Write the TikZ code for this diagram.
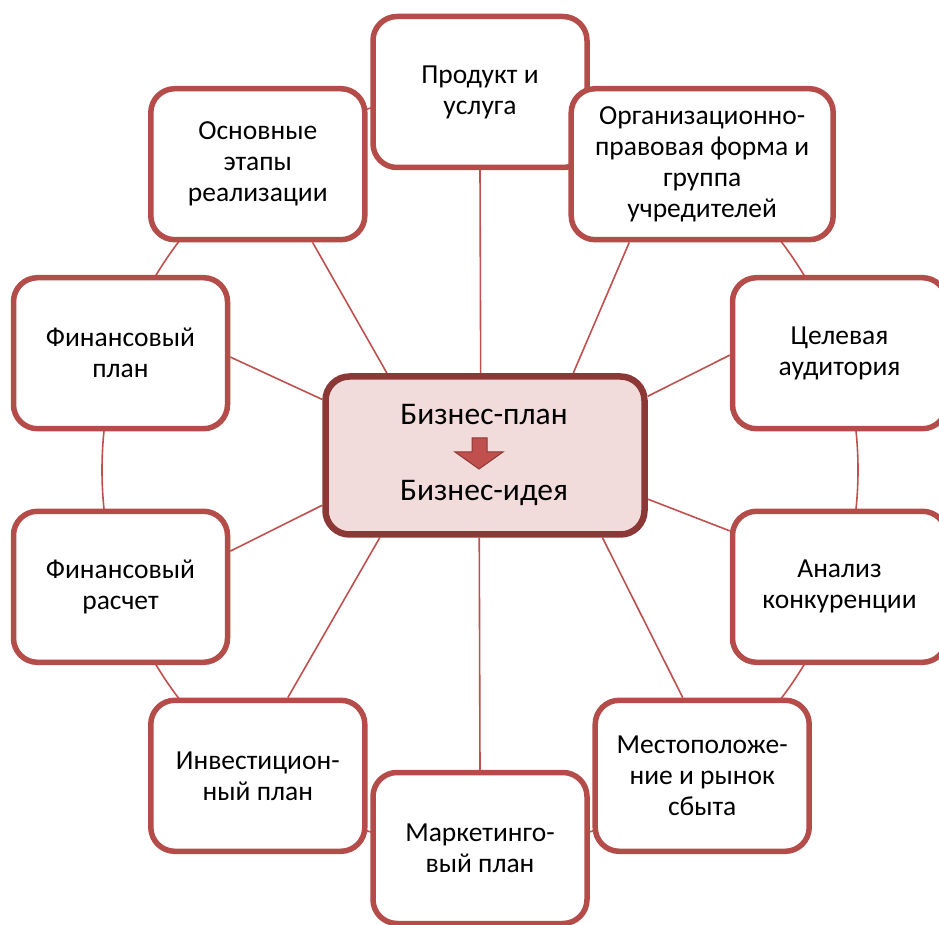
\documentclass[tikz,border=0pt]{standalone}
\usepackage{fontspec}
\setmainfont{Carlito}
\usetikzlibrary{calc,backgrounds}

\definecolor{boxred}{RGB}{180,76,73}
\definecolor{linered}{RGB}{192,80,77}
\definecolor{hubedge}{RGB}{140,56,54}
\definecolor{hubfill}{RGB}{242,220,219}

\begin{document}
\begin{tikzpicture}[
  x=1pt,
  y=1pt,
  topic/.style={draw=boxred, line width=5.5pt, fill=white, rounded corners=24pt, minimum width=214pt, minimum height=151pt, inner sep=0pt, align=center, font=\fontsize{27.5}{31}\selectfont},
  hub/.style={draw=hubedge, line width=6.5pt, fill=hubfill, rounded corners=24pt, minimum width=319pt, minimum height=158pt},
  hubtext/.style={anchor=base, inner sep=0pt, font=\fontsize{31.5}{36}\selectfont},
  spoke/.style={draw=linered, line width=1.6pt}
]
  \useasboundingbox (0,0) rectangle (939,924);
  \coordinate (ringc) at (480,454);

  \node[topic] (prod) at (480,832) {Продукт и\\услуга};
  \node[topic, minimum width=262pt] (org) at (702.2,759.8) {Организационно-\\правовая форма и\\группа\\учредителей};
  \node[topic] (target) at (839.5,570.8) {Целевая\\аудитория};
  \node[topic] (rivals) at (839.5,337.2) {Анализ\\конкуренции};
  \node[topic] (place) at (702.2,148.2) {Местоположе-\\ние и рынок\\сбыта};
  \node[topic] (mkt) at (480,76) {Маркетинго-\\вый план};
  \node[topic] (invest) at (257.8,148.2) {Инвестицион-\\ный план};
  \node[topic] (fincalc) at (120.5,337.2) {Финансовый\\расчет};
  \node[topic] (finplan) at (120.5,570.8) {Финансовый\\план};
  \node[topic] (stages) at (257.8,759.8) {Основные\\этапы\\реализации};

  \node[hub] (idea) at (485,468.5) {};
  \node[hubtext] (plan) at ($(idea.center)+(-1,30.5)$) {Бизнес-план};
  \node[hubtext] (goal) at ($(idea.center)+(-1,-45.5)$) {Бизнес-идея};
  \draw[hubedge, fill=linered, line width=1pt, shift={(idea.center)}]
    (-13,17.5) -- (2,17.5) -- (2,3.5) -- (18,3.5) -- (-6,-13.5) -- (-30,3.5) -- (-13,3.5) -- cycle;

  \begin{scope}[on background layer]
    \draw[spoke] (ringc) circle (378);
    \draw[spoke] (idea.93) -- (prod.south);
    \draw[spoke] (idea.43) -- (org.227);
    \draw[spoke] (idea.20) -- (target.181);
    \draw[spoke] (idea.345) -- (rivals.153);
    \draw[spoke] (idea.325) -- (place.104);
    \draw[spoke] (idea.266) -- (mkt.north);
    \draw[spoke] (idea.218) -- (invest.69);
    \draw[spoke] (idea.197) -- (fincalc.18);
    \draw[spoke] (idea.161) -- (finplan.358);
    \draw[spoke] (idea.140) -- (stages.305);
  \end{scope}
\end{tikzpicture}
\end{document}
